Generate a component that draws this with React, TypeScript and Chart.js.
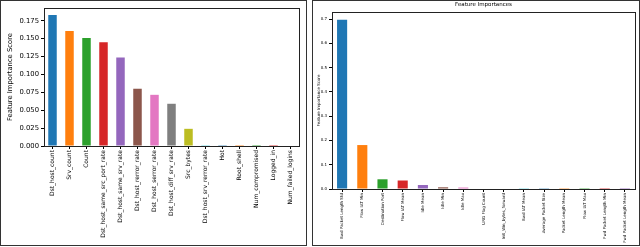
import React, { useEffect, useRef } from "react";
import { Chart, registerables } from "chart.js";

Chart.register(...registerables);

const leftCategories = [
  "Dst_host_count",
  "Srv_count",
  "Count",
  "Dst_host_same_src_port_rate",
  "Dst_host_same_srv_rate",
  "Dst_host_rerror_rate",
  "Dst_host_serror_rate",
  "Dst_host_diff_srv_rate",
  "Src_bytes",
  "Dst_host_srv_rerror_rate",
  "Hot",
  "Root_shell",
  "Num_compromised",
  "Logged_in",
  "Num_failed_logins",
];
const leftValues = [
  0.183, 0.1605, 0.151, 0.145, 0.1235, 0.08, 0.0715, 0.059, 0.024, 0.0003,
  0.0002, 0.0001, 0.0001, 0.0001, 0.0,
];

const rightCategories = [
  "Bwd Packet Length Std",
  "Flow IAT Min",
  "Destination Port",
  "Flow IAT Mean",
  "Idle Mean",
  "Idle Min",
  "Idle Max",
  "URG Flag Count",
  "Init_Win_bytes_forward",
  "Bwd IAT Mean",
  "Average Packet Size",
  "Packet Length Mean",
  "Flow IAT Max",
  "Fwd Packet Length Min",
  "Fwd Packet Length Mean",
];
const rightValues = [
  0.697, 0.181, 0.04, 0.035, 0.0165, 0.007, 0.006, 0.002, 0.002, 0.001,
  0.0008, 0.0006, 0.0005, 0.0004, 0.0003,
];

const tab10 = [
  "#1f77b4",
  "#ff7f0e",
  "#2ca02c",
  "#d62728",
  "#9467bd",
  "#8c564b",
  "#e377c2",
  "#7f7f7f",
  "#bcbd22",
  "#17becf",
];

const FONT = "'DejaVu Sans', sans-serif";

const framePlugin = {
  id: "frame",
  afterDraw(chart: any) {
    const { ctx, chartArea } = chart;
    ctx.save();
    ctx.strokeStyle = "#222";
    ctx.lineWidth = 1;
    ctx.strokeRect(
      Math.round(chartArea.left) + 0.5,
      Math.round(chartArea.top) + 0.5,
      Math.round(chartArea.right - chartArea.left),
      Math.round(chartArea.bottom - chartArea.top)
    );
    ctx.restore();
  },
};

type Cfg = {
  categories: string[];
  values: number[];
  max: number;
  step: number;
  decimals: number;
  tickFont: number;
  xTickFont: number;
  labelFont: number;
  titleFont: number;
  yWidth: number;
  xHeight: number;
  padTop: number;
  padRight: number;
  yTitlePad: number;
  title?: string;
  titlePadTop?: number;
  titlePadBottom?: number;
};

function BarPanel({ cfg, width, height }: { cfg: Cfg; width: number; height: number }) {
  const ref = useRef<HTMLCanvasElement | null>(null);
  useEffect(() => {
    if (!ref.current) return;
    const chart = new Chart(ref.current, {
      type: "bar",
      data: {
        labels: cfg.categories,
        datasets: [
          {
            data: cfg.values,
            backgroundColor: cfg.values.map((_, i) => tab10[i % 10]),
            borderWidth: 0,
            barPercentage: 0.5,
            categoryPercentage: 1,
          },
        ],
      },
      options: {
        responsive: false,
        animation: false,
        devicePixelRatio: 1,
        layout: { padding: { left: 0, top: cfg.title ? 0 : cfg.padTop, right: cfg.padRight, bottom: 0 } },
        plugins: {
          legend: { display: false },
          tooltip: { enabled: false },
          title: cfg.title
            ? {
                display: true,
                text: cfg.title,
                fullSize: false,
                color: "#000",
                font: { family: FONT, size: cfg.titleFont, weight: "normal" },
                padding: { top: cfg.titlePadTop ?? 2, bottom: cfg.titlePadBottom ?? 3 },
              }
            : { display: false },
        },
        scales: {
          x: {
            type: "category",
            afterFit: (s: any) => {
              s.height = cfg.xHeight;
            },
            grid: {
              display: true,
              drawOnChartArea: false,
              drawTicks: true,
              tickLength: 3,
              color: "#000",
              offset: false,
            },
            border: { display: false },
            ticks: {
              autoSkip: false,
              maxRotation: 90,
              minRotation: 90,
              padding: 1,
              color: "#000",
              font: { family: FONT, size: cfg.xTickFont },
            },
          },
          y: {
            type: "linear",
            min: 0,
            max: cfg.max,
            afterFit: (s: any) => {
              s.width = cfg.yWidth;
            },
            afterBuildTicks: (s: any) => {
              s.ticks = s.ticks.filter(
                (t: any) => Math.abs(t.value / cfg.step - Math.round(t.value / cfg.step)) < 1e-6
              );
            },
            grid: {
              display: true,
              drawOnChartArea: false,
              drawTicks: true,
              tickLength: 3,
              color: "#000",
            },
            border: { display: false },
            title: {
              display: true,
              text: "Feature Importance Score",
              color: "#000",
              font: { family: FONT, size: cfg.labelFont },
              padding: { top: cfg.yTitlePad, bottom: 0 },
            },
            ticks: {
              stepSize: cfg.step,
              padding: 2,
              color: "#000",
              font: { family: FONT, size: cfg.tickFont },
              callback: (v: any) => Number(v).toFixed(cfg.decimals),
            },
          },
        },
      },
      plugins: [framePlugin],
    } as any);
    return () => chart.destroy();
  }, []);
  return (
    <canvas
      ref={ref}
      width={width}
      height={height}
      style={{ position: "absolute", left: 0, top: 0, width, height }}
    />
  );
}

const leftCfg: Cfg = {
  categories: leftCategories,
  values: leftValues,
  max: 0.1928,
  step: 0.025,
  decimals: 3,
  tickFont: 6.8,
  xTickFont: 6,
  labelFont: 6.8,
  titleFont: 7,
  yWidth: 44,
  xHeight: 100,
  padTop: 8,
  padRight: 8,
  yTitlePad: 6,
};

const rightCfg: Cfg = {
  categories: rightCategories,
  values: rightValues,
  max: 0.729,
  step: 0.1,
  decimals: 1,
  tickFont: 4,
  xTickFont: 4,
  labelFont: 4,
  titleFont: 5.5,
  yWidth: 20,
  xHeight: 57,
  padTop: 12,
  padRight: 5,
  yTitlePad: 4.6,
  title: "Feature Importances",
  titlePadTop: 1.7,
  titlePadBottom: 3.7,
};

export default function App() {
  return (
    <div
      style={{
        position: "absolute",
        left: 0,
        top: 0,
        width: 640,
        height: 247,
        background: "#fff",
        overflow: "hidden",
      }}
    >
      <div style={{ position: "absolute", left: 0, top: 0, width: 307, height: 246 }}>
        <BarPanel cfg={leftCfg} width={307} height={246} />
        <div
          style={{
            position: "absolute",
            left: 0,
            top: 0,
            width: 307,
            height: 246,
            boxSizing: "border-box",
            border: "1px solid #333",
            pointerEvents: "none",
          }}
        />
      </div>
      <div style={{ position: "absolute", left: 312, top: 0, width: 328, height: 246 }}>
        <BarPanel cfg={rightCfg} width={328} height={246} />
        <div
          style={{
            position: "absolute",
            left: 0,
            top: 0,
            width: 328,
            height: 246,
            boxSizing: "border-box",
            border: "1px solid #333",
            pointerEvents: "none",
          }}
        />
      </div>
    </div>
  );
}
